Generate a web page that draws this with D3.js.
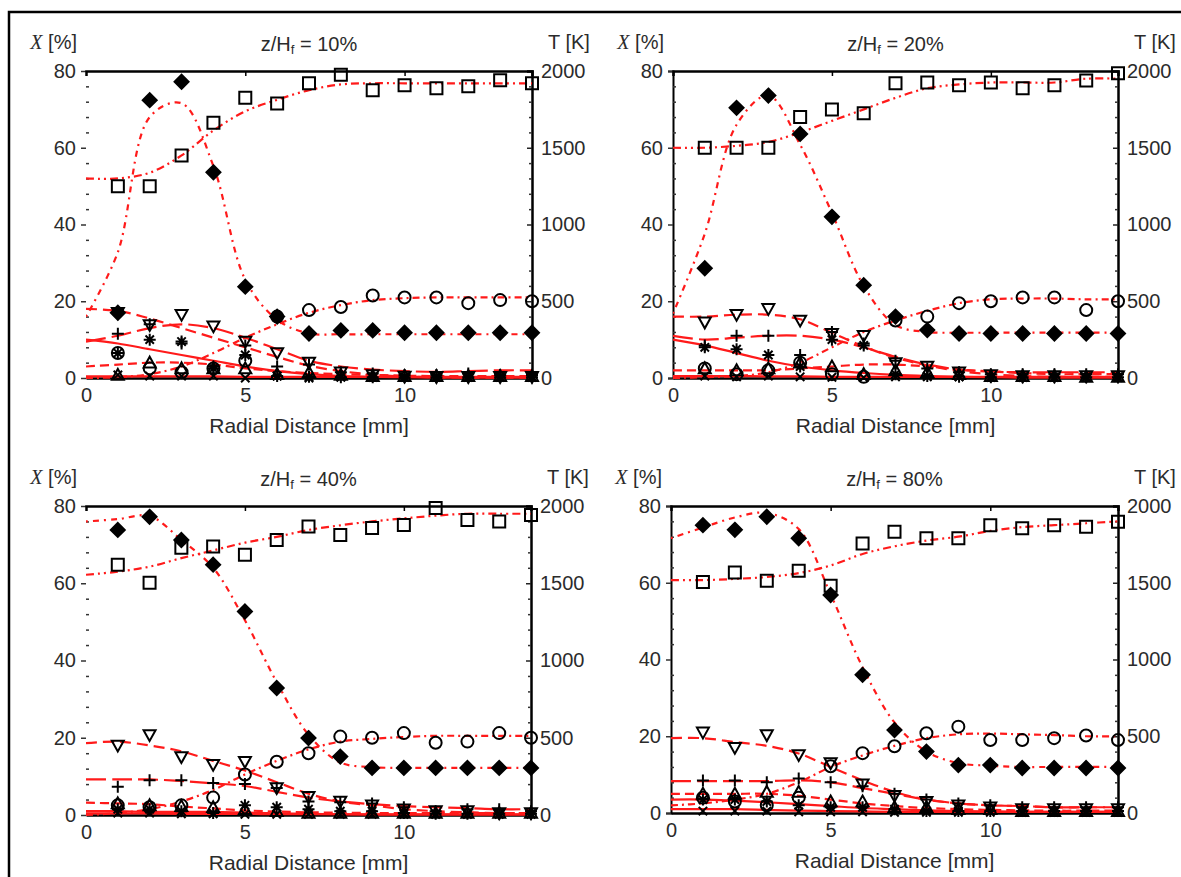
<!DOCTYPE html>
<html>
<head>
<meta charset="utf-8">
<script src="https://cdn.jsdelivr.net/npm/d3@7"></script>
<style>
  html, body { margin: 0; padding: 0; background: #fff; }
  svg { display: block; }
  text { font-family: "Liberation Sans", Arial, sans-serif; fill: #2b2b2b; }
</style>
</head>
<body>
<svg id="chart" width="1181" height="877"></svg>
<script>
// ---------- data ----------
const heightLabels = ["10%", "20%", "40%", "80%"];
const radialMm = [1, 2, 3, 4, 5, 6, 7, 8, 9, 10, 11, 12, 13, 14];
const modelMm  = [0, 1, 2, 3, 4, 5, 6, 7, 8, 9, 10, 11, 12, 13, 14];
const xTickValues = [0, 5, 10];
const moleTicks = [0, 20, 40, 60, 80];
const tempTicks = [0, 500, 1000, 1500, 2000];

// z/Hf = 10 %  — measured (mole %, temperature K)
const n2_10   = [50, 50, 58, 66.5, 73, 71.5, 76.8, 79, 75, 76.3, 75.5, 76, 77.6, 76.8];
const temp_10 = [425, 1810, 1930, 1340, 595, 400, 290, 310, 310, 295, 295, 295, 295, 295];
const o2_10   = [6.5, 2.5, 1.5, 2.5, 4.5, 16, 17.7, 18.5, 21.5, 21, 21, 19.5, 20.3, 20];
const fuel_10 = [17, 13.8, 16.5, 13.5, 9.5, 6.5, 4, 1.5, 0.8, 0.4, 0.3, 0.3, 0.3, 0.3];
const h2o_10  = [11.5, 14, 9, 3, 8.5, 3, 3.5, 1.5, 1.2, 0.8, 0.8, 1.2, 0.8, 0.8];
const co2_10  = [0.8, 4, 2.5, 2.5, 2.5, 1, 1.5, 0.8, 0.5, 0.5, 0.5, 0.5, 0.5, 0.5];
const co_10   = [6.5, 10, 9.5, 2.5, 6, 0.5, 0.3, 0.2, 0.2, 0.2, 0.2, 0.2, 0.2, 0.2];
const h2_10   = [0.8, 0.5, 0.5, 0.5, 0, 0.5, 0, 0.3, 0.3, 0.3, 0.3, 0.3, 0.3, 0.3];
// z/Hf = 10 %  — model
const n2Fit_10   = [52, 52, 53.5, 58, 64.5, 69.5, 72.5, 75, 76.5, 76.8, 76.8, 76.8, 76.8, 76.8, 76.8];
const tempFit_10 = [400, 820, 1700, 1790, 1380, 640, 380, 290, 285, 285, 285, 285, 285, 285, 285];
const o2Fit_10   = [0, 0.2, 1, 3, 6.5, 10.5, 14, 17, 19, 20.3, 20.8, 21, 21, 21, 21];
const fuelFit_10 = [18, 17.5, 15.5, 13, 10.5, 8, 5.5, 3.2, 1.8, 0.9, 0.4, 0.2, 0.1, 0.1, 0.1];
const h2oFit_10  = [9.5, 11, 13, 14, 13, 10.5, 7.5, 4.5, 3, 2.2, 1.8, 1.6, 1.8, 2, 2];
const co2Fit_10  = [3, 3.5, 4, 4, 3.5, 2.5, 1.8, 1.3, 1, 0.8, 0.6, 0.5, 0.5, 0.5, 0.5];
const coFit_10   = [10, 9, 7.5, 6, 4.5, 3, 1.8, 1, 0.5, 0.3, 0.2, 0.1, 0.1, 0.1, 0.1];
const h2Fit_10   = [0.4, 0.4, 0.4, 0.4, 0.4, 0.3, 0.3, 0.3, 0.3, 0.3, 0.3, 0.3, 0.3, 0.3, 0.3];

// z/Hf = 20 %
const n2_20   = [60, 60, 60, 68, 70, 69, 76.8, 77, 76.3, 77, 75.5, 76.3, 77.5, 79.4];
const temp_20 = [715, 1760, 1840, 1590, 1050, 605, 400, 312, 290, 290, 290, 290, 290, 290];
const o2_20   = [2.5, 1, 2, 4, 1, 0.3, 15, 16, 19.5, 20, 21, 21, 17.7, 20];
const fuel_20 = [14.5, 16.5, 18, 15, 11.5, 11, 3.9, 3, 1.5, 0.8, 0.5, 0.5, 0.5, 0.5];
const h2o_20  = [8.5, 11, 11, 6, 12, 9, 4.5, 2.5, 1.5, 1, 1, 1, 1, 1];
const co2_20  = [2.5, 2, 2.5, 4, 3, 1, 2, 1.5, 1, 0.5, 0.5, 0.5, 0.3, 0.3];
const co_20   = [8, 7.5, 6, 3, 10, 8.5, 1, 0.5, 0.3, 0.2, 0.2, 0.2, 0.2, 0.2];
const h2_20   = [0.5, 0.3, 0.5, 0.3, 0.2, 0.1, 0.3, 0.3, 0.3, 0.2, 0.2, 0.2, 0.2, 0.2];
const n2Fit_20   = [60, 60, 60.5, 61.5, 64, 67, 70, 73, 75.5, 76.5, 77, 77, 77, 78, 78];
const tempFit_20 = [420, 940, 1650, 1840, 1520, 1075, 600, 345, 300, 295, 295, 295, 295, 295, 295];
const o2Fit_20   = [0, 0.2, 0.5, 1.5, 4, 8, 12, 15, 17.5, 19.5, 20.5, 20.7, 20.7, 20.5, 20.5];
const fuelFit_20 = [16, 16, 16.5, 16.5, 15.3, 11.8, 8.2, 5.3, 3.3, 1.8, 1, 0.5, 0.3, 0.3, 0.3];
const h2oFit_20  = [11, 10, 10.5, 11, 11, 10, 8, 5.5, 3.5, 2.2, 1.7, 1.5, 1.5, 1.5, 1.5];
const co2Fit_20  = [2, 2, 2, 2, 2.5, 3, 3.5, 3.5, 3, 2.2, 1.7, 1.3, 1, 1, 1];
const coFit_20   = [10, 8.5, 6.5, 4.5, 3, 2, 1.3, 0.8, 0.5, 0.3, 0.2, 0.1, 0.1, 0.1, 0.1];
const h2Fit_20   = [0.5, 0.5, 0.5, 0.4, 0.4, 0.3, 0.3, 0.3, 0.3, 0.3, 0.3, 0.3, 0.3, 0.3, 0.3];

// z/Hf = 40 %
const n2_40   = [64.8, 60.1, 69.2, 69.5, 67.4, 71.2, 74.7, 72.5, 74.3, 75.1, 79.5, 76.4, 76, 77.7];
const temp_40 = [1845, 1930, 1780, 1620, 1317, 822, 498, 378, 305, 305, 305, 305, 305, 305];
const o2_40   = [2.5, 2, 2.5, 4.5, 10.5, 13.8, 16, 20.3, 20, 21.2, 18.7, 19, 21.2, 20];
const fuel_40 = [18, 20.7, 15, 13, 13.8, 7, 4.7, 3.5, 2.5, 1.5, 1, 1, 0.5, 0.5];
const h2o_40  = [7.3, 9, 9, 8.3, 8, 7, 3.5, 3.3, 3, 2, 1, 1.5, 1.5, 1];
const co2_40  = [3, 2.5, 2.3, 2, 1.5, 1, 0.5, 0.5, 0.5, 0.5, 0.5, 0.5, 0.5, 0.5];
const co_40   = [1.5, 1.5, 1, 0.5, 2.5, 2, 1.5, 1, 1, 0.5, 0.3, 0.3, 0.3, 0.3];
const h2_40   = [0.5, 0.5, 0.3, 0.3, 0.2, 0.2, 0.2, 0.2, 0.2, 0.2, 0.2, 0.2, 0.2, 0.2];
const n2Fit_40   = [62.2, 63, 64.3, 66.5, 68.5, 70.5, 72, 73.8, 75, 76, 76.8, 77.5, 78, 78, 78];
const tempFit_40 = [1900, 1915, 1935, 1780, 1600, 1260, 860, 520, 340, 310, 305, 305, 305, 305, 305];
const o2Fit_40   = [0, 0.5, 1.5, 3.5, 6.5, 10.5, 14, 17, 19, 19.7, 20.2, 20.5, 20.5, 20.5, 20.5];
const fuelFit_40 = [18.6, 19, 18, 16.5, 14, 11.5, 8.5, 5.5, 3.5, 2.5, 1.5, 1, 0.7, 0.5, 0.5];
const h2oFit_40  = [9.2, 9.2, 9.2, 8.8, 8.2, 7.5, 6, 4.5, 3.5, 2.8, 2.3, 2, 1.8, 1.5, 1.5];
const co2Fit_40  = [3.2, 3, 2.8, 2.2, 1.7, 1.2, 0.9, 0.7, 0.6, 0.5, 0.5, 0.5, 0.5, 0.5, 0.5];
const coFit_40   = [1, 1, 0.8, 0.8, 0.8, 0.6, 0.4, 0.3, 0.2, 0.1, 0.1, 0.1, 0.1, 0.1, 0.1];
const h2Fit_40   = [0.4, 0.4, 0.4, 0.3, 0.3, 0.3, 0.2, 0.2, 0.2, 0.2, 0.2, 0.2, 0.2, 0.2, 0.2];

// z/Hf = 80 %
const n2_80   = [60.2, 62.7, 60.5, 63.1, 59.2, 70.2, 73.3, 71.6, 71.6, 75, 74.2, 75, 74.6, 75.9];
const temp_80 = [1875, 1845, 1930, 1790, 1420, 900, 540, 400, 312, 312, 293, 293, 293, 293];
const o2_80   = [4, 3, 2, 4, 12.2, 15.6, 17.4, 20.8, 22.5, 19, 19, 19.5, 20.2, 19];
const fuel_80 = [21, 17, 20.3, 15.1, 13, 7.5, 4.5, 2.9, 2, 1.5, 1, 1, 1, 1];
const h2o_80  = [8.5, 8.5, 8, 9, 8, 7, 5, 3.5, 2.5, 2, 1.5, 1.5, 1.5, 1.5];
const co2_80  = [5, 5, 5.5, 5.5, 3, 3, 1.5, 1.5, 1, 1, 0.5, 0.5, 0.5, 0.5];
const co_80   = [3.5, 3.5, 3, 2, 1.5, 1.5, 1, 0.5, 0.5, 0.5, 0.5, 0.5, 0.5, 0.5];
const h2_80   = [0.5, 0.5, 0.5, 0.3, 0.3, 0.3, 0.2, 0.2, 0.2, 0.2, 0.2, 0.2, 0.2, 0.2];
const n2Fit_80   = [60.7, 60.7, 61, 61.5, 62.5, 64.5, 67.5, 69.5, 71, 72, 73.5, 74.5, 75, 75.5, 76];
const tempFit_80 = [1790, 1860, 1925, 1955, 1850, 1425, 950, 590, 400, 325, 308, 300, 300, 300, 300];
const o2Fit_80   = [2, 2.5, 3.5, 5, 8, 12, 15, 17.5, 19.5, 20.5, 20.7, 20.5, 20.3, 20, 20];
const fuelFit_80 = [19.5, 19.5, 18.5, 17.5, 15.5, 12, 8.5, 5.5, 3.5, 2.5, 2, 1.8, 1.5, 1.5, 1.5];
const h2oFit_80  = [8.3, 8.3, 8.3, 8.3, 8.5, 8, 6.5, 5, 3.5, 2.5, 2, 1.8, 1.5, 1.5, 1.5];
const co2Fit_80  = [5, 5, 5, 5, 4.5, 3.5, 2.5, 1.8, 1.3, 1, 0.8, 0.7, 0.6, 0.6, 0.6];
const coFit_80   = [3.5, 3.5, 3.2, 2.8, 2.3, 1.8, 1.3, 1, 0.7, 0.5, 0.4, 0.3, 0.3, 0.3, 0.3];
const h2Fit_80   = [1, 1, 1, 0.8, 0.6, 0.5, 0.4, 0.3, 0.3, 0.3, 0.3, 0.3, 0.3, 0.3, 0.3];

// ---------- panel layout ----------
const layout = [
  { left: 86,  right: 532,  top: 71,  bottom: 378, leftLine: false },
  { left: 673, right: 1118, top: 71,  bottom: 378, leftLine: true },
  { left: 86,  right: 531,  top: 506, bottom: 815, leftLine: false },
  { left: 671, right: 1118, top: 506, bottom: 813, leftLine: true }
];

const panels = [
  { label: heightLabels[0],
    measured: { n2: n2_10, temp: temp_10, o2: o2_10, fuel: fuel_10, h2o: h2o_10, co2: co2_10, co: co_10, h2: h2_10 },
    model:    { n2: n2Fit_10, temp: tempFit_10, o2: o2Fit_10, fuel: fuelFit_10, h2o: h2oFit_10, co2: co2Fit_10, co: coFit_10, h2: h2Fit_10 } },
  { label: heightLabels[1],
    measured: { n2: n2_20, temp: temp_20, o2: o2_20, fuel: fuel_20, h2o: h2o_20, co2: co2_20, co: co_20, h2: h2_20 },
    model:    { n2: n2Fit_20, temp: tempFit_20, o2: o2Fit_20, fuel: fuelFit_20, h2o: h2oFit_20, co2: co2Fit_20, co: coFit_20, h2: h2Fit_20 } },
  { label: heightLabels[2],
    measured: { n2: n2_40, temp: temp_40, o2: o2_40, fuel: fuel_40, h2o: h2o_40, co2: co2_40, co: co_40, h2: h2_40 },
    model:    { n2: n2Fit_40, temp: tempFit_40, o2: o2Fit_40, fuel: fuelFit_40, h2o: h2oFit_40, co2: co2Fit_40, co: coFit_40, h2: h2Fit_40 } },
  { label: heightLabels[3],
    measured: { n2: n2_80, temp: temp_80, o2: o2_80, fuel: fuel_80, h2o: h2o_80, co2: co2_80, co: co_80, h2: h2_80 },
    model:    { n2: n2Fit_80, temp: tempFit_80, o2: o2Fit_80, fuel: fuelFit_80, h2o: h2oFit_80, co2: co2Fit_80, co: coFit_80, h2: h2Fit_80 } }
];

// marker + model line style per quantity; temperature uses the right-hand axis
const speciesStyle = [
  { key: "h2",   marker: "times",    dash: null },
  { key: "co",   marker: "asterisk", dash: null },
  { key: "co2",  marker: "triUp",    dash: "9,5" },
  { key: "h2o",  marker: "plus",     dash: "20,6" },
  { key: "fuel", marker: "triDown",  dash: "11,6" },
  { key: "o2",   marker: "circle",   dash: "7,4,2,4" },
  { key: "n2",   marker: "square",   dash: "8,4,2,4,2,4" },
  { key: "temp", marker: "diamond",  dash: "2,5,6,5", right: true }
];

const r = 6;
const markerPath = {
  square:   `M${-r},${-r}h${2*r}v${2*r}h${-2*r}Z`,
  diamond:  `M0,${-r-1}L${r+1},0L0,${r+1}L${-r-1},0Z`,
  triDown:  `M${-r},${-r*0.8}L${r},${-r*0.8}L0,${r}Z`,
  triUp:    `M0,${-r}L${r},${r*0.8}L${-r},${r*0.8}Z`,
  plus:     `M${-r},0H${r}M0,${-r}V${r}`,
  times:    `M${-r*0.7},${-r*0.7}L${r*0.7},${r*0.7}M${r*0.7},${-r*0.7}L${-r*0.7},${r*0.7}`,
  asterisk: `M${-r},0H${r}M0,${-r}V${r}M${-r*0.7},${-r*0.7}L${r*0.7},${r*0.7}M${r*0.7},${-r*0.7}L${-r*0.7},${r*0.7}`
};

const svg = d3.select("#chart");

// outer frame of the figure
svg.append("path")
  .attr("d", "M9,877V12H1181")
  .attr("fill", "none").attr("stroke", "#000").attr("stroke-width", 2.5);

panels.forEach((p, i) => {
  const box = layout[i];
  const g = svg.append("g");
  const x = d3.scaleLinear().domain([0, 14]).range([box.left, box.right]);
  const yX = d3.scaleLinear().domain([0, 80]).range([box.bottom, box.top]);
  const yT = d3.scaleLinear().domain([0, 2000]).range([box.bottom, box.top]);

  const clipId = "clip" + i;
  svg.append("clipPath").attr("id", clipId)
    .append("rect").attr("x", box.left).attr("y", box.top - 2)
    .attr("width", box.right - box.left).attr("height", box.bottom - box.top + 4);

  // left axis (mole fraction)
  const leftAxis = d3.axisLeft(yX).tickValues(moleTicks).tickFormat(d3.format("d")).tickSize(5).tickPadding(5);
  const gl = g.append("g").attr("transform", `translate(${box.left},0)`).call(leftAxis);
  gl.select(".domain").attr("stroke", box.leftLine ? "#000" : "none").attr("stroke-width", 2);
  gl.selectAll(".tick line").attr("stroke", "#333").attr("stroke-width", 1.5);
  gl.selectAll(".tick text").attr("font-size", 20).attr("fill", "#2b2b2b")
    .attr("font-family", "Liberation Sans, Arial, sans-serif");
  g.append("g").attr("transform", `translate(${box.left},0)`)
    .call(d3.axisRight(yX).tickValues(d3.range(0, 81, 4).filter(v => v % 20 !== 0)).tickSize(3).tickFormat(""))
    .call(s => { s.select(".domain").remove(); s.selectAll("line").attr("stroke", "#333").attr("stroke-width", 1.5); });

  // right axis (temperature)
  const rightAxis = d3.axisRight(yT).tickValues(tempTicks).tickFormat(d3.format("d")).tickSize(-5).tickPadding(9);
  const gr = g.append("g").attr("transform", `translate(${box.right},0)`).call(rightAxis);
  gr.select(".domain").attr("stroke", "#000").attr("stroke-width", 2.5);
  gr.selectAll(".tick line").attr("stroke", "#222").attr("stroke-width", 1.5);
  gr.selectAll(".tick text").attr("font-size", 20).attr("fill", "#2b2b2b")
    .attr("font-family", "Liberation Sans, Arial, sans-serif");
  g.append("g").attr("transform", `translate(${box.right},0)`)
    .call(d3.axisLeft(yT).tickValues(d3.range(0, 2001, 100).filter(v => v % 500 !== 0)).tickSize(3).tickFormat(""))
    .call(s => { s.select(".domain").remove(); s.selectAll("line").attr("stroke", "#333").attr("stroke-width", 1.5); });

  // bottom and top axes
  const bottomAxis = d3.axisBottom(x).tickValues(xTickValues).tickFormat(d3.format("d")).tickSize(0).tickPadding(10);
  const gb = g.append("g").attr("transform", `translate(0,${box.bottom})`).call(bottomAxis);
  gb.select(".domain").attr("stroke", "#000").attr("stroke-width", 2.5);
  gb.selectAll(".tick text").attr("font-size", 20).attr("fill", "#2b2b2b")
    .attr("font-family", "Liberation Sans, Arial, sans-serif");
  const gt = g.append("g").attr("transform", `translate(0,${box.top})`)
    .call(d3.axisBottom(x).tickValues([5, 10]).tickSize(5).tickFormat(""));
  gt.select(".domain").attr("stroke", "#000").attr("stroke-width", 2.5);
  gt.selectAll(".tick line").attr("stroke", "#000").attr("stroke-width", 1.5);

  // model curves
  const lines = g.append("g").attr("clip-path", `url(#${clipId})`);
  speciesStyle.forEach(s => {
    const yScale = s.right ? yT : yX;
    const line = d3.line()
      .x((d, j) => x(modelMm[j]))
      .y(d => yScale(d))
      .curve(d3.curveCatmullRom.alpha(0.5));
    lines.append("path")
      .datum(p.model[s.key])
      .attr("d", line)
      .attr("fill", "none")
      .attr("stroke", "#ff1a1a")
      .attr("stroke-width", 2.2)
      .attr("stroke-dasharray", s.dash);
  });

  // measured points
  const pts = g.append("g");
  speciesStyle.forEach(s => {
    const yScale = s.right ? yT : yX;
    const filled = s.marker === "diamond";
    pts.selectAll(null)
      .data(p.measured[s.key])
      .join(s.marker === "circle" ? "circle" : "path")
      .each(function (d, j) {
        const el = d3.select(this);
        const cx = x(radialMm[j]), cy = yScale(d);
        if (s.marker === "circle") {
          el.attr("cx", cx).attr("cy", cy).attr("r", r);
        } else {
          el.attr("d", markerPath[s.marker]).attr("transform", `translate(${cx},${cy})`);
        }
      })
      .attr("fill", filled ? "#000" : "none")
      .attr("stroke", "#000")
      .attr("stroke-width", 2);
  });

  // labels
  const cx = (box.left + box.right) / 2;
  const title = g.append("text").attr("x", cx).attr("y", box.top - 25)
    .attr("text-anchor", "middle").attr("dominant-baseline", "middle").attr("font-size", 20);
  title.append("tspan").text("z/H");
  title.append("tspan").attr("font-size", 13).attr("dy", 5).text("f");
  title.append("tspan").attr("dy", -5).text(" = " + p.label);

  const xl = g.append("text").attr("x", box.left - 9).attr("y", box.top - 27)
    .attr("text-anchor", "end").attr("dominant-baseline", "middle").attr("font-size", 20);
  xl.append("tspan").attr("font-family", "Liberation Serif, serif").attr("font-style", "italic").text("X");
  xl.append("tspan").text(" [%]");

  g.append("text").attr("x", box.right + 16).attr("y", box.top - 27)
    .attr("dominant-baseline", "middle").attr("font-size", 20).text("T [K]");

  g.append("text").attr("x", cx).attr("y", box.bottom + 49)
    .attr("text-anchor", "middle").attr("dominant-baseline", "middle")
    .attr("font-size", 21).attr("fill", "#1e2a44").text("Radial Distance [mm]");
});
</script>
</body>
</html>
